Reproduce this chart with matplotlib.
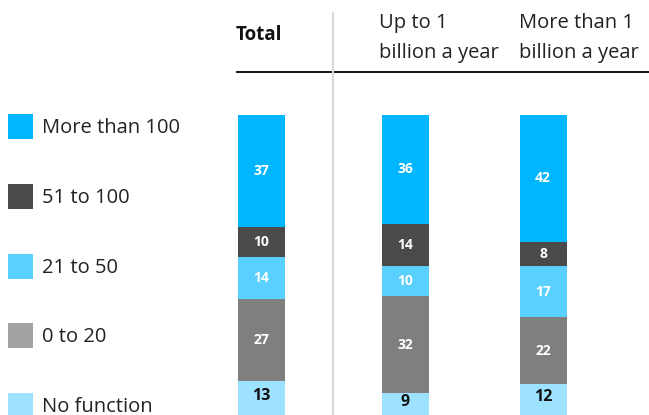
import numpy as np
import matplotlib.pyplot as plt
from matplotlib.patches import Rectangle

plt.rcParams['font.family'] = ['Open Sans', 'DejaVu Sans']

# share of companies by number of people in the function (%)
groups = ['Total', 'Up to 1\nbillion a year', 'More than 1\nbillion a year']
categories = ['No function', '0 to 20', '21 to 50', '51 to 100', 'More than 100']
no_function = [13, 9, 12]
up_to_20 = [27, 32, 22]
from_21_to_50 = [14, 10, 17]
from_51_to_100 = [10, 14, 8]
more_than_100 = [37, 36, 42]

series = [no_function, up_to_20, from_21_to_50, from_51_to_100, more_than_100]
bar_colors = ['#9de3ff', '#7f7f7f', '#5ad0ff', '#4a4a4a', '#00b6ff']
legend_colors = ['#9de3ff', '#a3a3a3', '#5ad0ff', '#4a4a4a', '#00b6ff']
label_colors = ['#111111', 'white', 'white', 'white', 'white']

W, H = 649, 415
fig = plt.figure(figsize=(W / 100, H / 100), dpi=100)

# bar axes: x in pixels, y in percent units
px_per_unit = 3.02
y0 = 5 / px_per_unit
ax = fig.add_axes([0, 0, 1, 1])
ax.set_xlim(0, W)
ax.set_ylim(y0, y0 + H / px_per_unit)
ax.axis('off')

x_centers = [261, 405, 543]
bar_width = 47

bottom = np.zeros(len(groups))
for i, vals in enumerate(series):
    vals = np.array(vals)
    ax.bar(x_centers, vals, width=bar_width, bottom=bottom,
           color=bar_colors[i], linewidth=0)
    for x, b, v in zip(x_centers, bottom, vals):
        if i == 0:
            ax.text(x, b + v / 2 + 1.5, str(v), ha='center', va='center',
                    color=label_colors[i], fontsize=11.5, fontweight='bold')
        else:
            ax.text(x, b + v / 2, str(v), ha='center', va='center',
                    color=label_colors[i], fontsize=10, fontweight='bold')
    bottom += vals

# overlay axes in pixel coordinates for headers, rules and legend
ov = fig.add_axes([0, 0, 1, 1], facecolor='none')
ov.set_xlim(0, W)
ov.set_ylim(H, 0)
ov.axis('off')

ov.plot([237, W], [72, 72], color='black', lw=1.3)
ov.plot([333, 333], [13, H], color='#d9d9d9', lw=1.5)

ov.text(236, 40, groups[0], ha='left', va='baseline', fontsize=13.5,
        fontweight='bold', color='#111111')
for x, label in zip([379, 519], groups[1:]):
    for k, line in enumerate(label.split('\n')):
        ov.text(x, 28 + 30 * k, line, ha='left', va='baseline',
                fontsize=14.5, color='#222222')

legend_y = [126.5, 196.5, 266.5, 335.5, 405.5]
for name, col, yc in zip(categories[::-1], legend_colors[::-1], legend_y):
    ov.add_patch(Rectangle((8, yc - 12.5), 25, 25, color=col, lw=0))
    ov.text(42, yc + 6.5, name, ha='left', va='baseline', fontsize=14.5,
            color='#222222')

fig.savefig('out.png', dpi=100)
